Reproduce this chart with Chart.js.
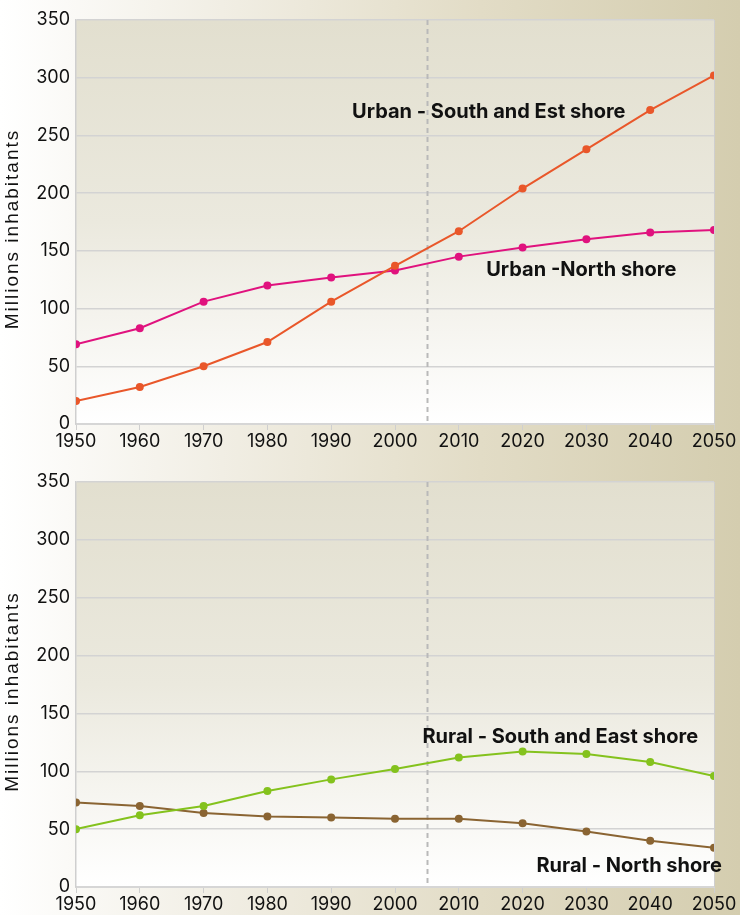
<!DOCTYPE html>
<html><head><meta charset="utf-8">
<script src="https://cdn.jsdelivr.net/npm/chart.js@4"></script>
<style>
html,body{margin:0;padding:0;}
body{width:740px;height:915px;background:linear-gradient(to right,#ffffff 0%,#f1eee4 30%,#e2dcc6 65%,#d4cdaf 100%);}
.box{position:absolute;left:0;width:740px;}
</style></head><body>
<div class="box" style="top:0;height:458px"><canvas id="c1"></canvas></div>
<div class="box" style="top:458px;height:457px"><canvas id="c2"></canvas></div>
<script>
const years = [1950,1960,1970,1980,1990,2000,2010,2020,2030,2040,2050];
const urbanSouthEast = [20,32,50,71,106,137,167,204,238,272,302];
const urbanNorth = [69,83,106,120,127,133,145,153,160,166,168];
const ruralSouthEast = [50,62,70,83,93,102,112,117,115,108,96];
const ruralNorth = [73,70,64,61,60,59,59,55,48,40,34];
const yTicks = [0,50,100,150,200,250,300,350];
const markerYear = 2005;
const yTitle = 'Millions inhabitants';

const pts = arr => years.map((y,i)=>({x:y,y:arr[i]}));
const FONT = 'Inter';

function ds(label, arr, color){
  return {label, data:pts(arr), borderColor:color, backgroundColor:color,
    borderWidth:2, pointRadius:4, pointHoverRadius:4, pointBorderWidth:0, tension:0};
}

const decor = {
  id:'decor',
  beforeDraw(chart){
    const {ctx, chartArea:a} = chart;
    const g = ctx.createLinearGradient(0,a.top,0,a.bottom);
    g.addColorStop(0,'#e2dfcf'); g.addColorStop(0.5,'#ebe9de'); g.addColorStop(1,'#ffffff');
    ctx.save(); ctx.fillStyle=g; ctx.fillRect(a.left,a.top,a.right-a.left,a.bottom-a.top); ctx.restore();
  },
  beforeDatasetsDraw(chart){
    const {ctx, chartArea:a, scales} = chart;
    ctx.save();
    ctx.strokeStyle='#cfcfcf'; ctx.lineWidth=1;
    ctx.beginPath(); ctx.moveTo(Math.round(a.right)+0.5,a.top); ctx.lineTo(Math.round(a.right)+0.5,a.bottom); ctx.stroke();
    const x = Math.round(scales.x.getPixelForValue(markerYear))+0.5;
    ctx.strokeStyle='#b9b9b9'; ctx.lineWidth=2; ctx.setLineDash([5,4]);
    ctx.beginPath(); ctx.moveTo(x,a.top); ctx.lineTo(x,a.bottom); ctx.stroke();
    ctx.restore();
  },
  afterDatasetsDraw(chart, args, opts){
    const {ctx, scales, chartArea:a} = chart;
    ctx.save();
    ctx.font = 'bold 20px '+FONT; ctx.fillStyle='#111'; ctx.textAlign='center'; ctx.textBaseline='middle';
    (opts.labels||[]).forEach(l=>{
      ctx.fillText(l.text, scales.x.getPixelForValue(l.x), scales.y.getPixelForValue(l.y));
    });
    ctx.restore();
    // axis title
    ctx.save();
    ctx.translate(13, (a.top+a.bottom)/2 + 7);
    ctx.rotate(-Math.PI/2);
    ctx.font = '19px "Liberation Sans"';
    ctx.letterSpacing = '2px';
    ctx.fillStyle='#111'; ctx.textAlign='center'; ctx.textBaseline='middle';
    ctx.fillText(yTitle, 0, 0);
    ctx.restore();
  }
};

function makeChart(id, datasets, labels, padTop, padBottom){
  return new Chart(document.getElementById(id), {
    type:'line',
    data:{datasets},
    plugins:[decor],
    options:{
      responsive:true, maintainAspectRatio:false, animation:false,
      layout:{padding:{top:padTop,right:26,left:0,bottom:padBottom}},
      plugins:{legend:{display:false}, tooltip:{enabled:false}, decor:{labels}},
      scales:{
        x:{type:'linear', min:1950, max:2050,
          afterFit:s=>{s.height=28;},
          ticks:{stepSize:10, color:'#111', font:{family:FONT,size:18}, padding:1, callback:v=>String(v), maxRotation:0, autoSkip:false},
          grid:{drawOnChartArea:false, color:'#cfcfcf', tickLength:6, lineWidth:1},
          border:{color:'#d6d6d6', width:2}
        },
        y:{min:0, max:350, afterBuildTicks:s=>{s.ticks=yTicks.map(v=>({value:v}));},
          afterFit:s=>{s.width=76;},
          ticks:{color:'#111', font:{family:FONT,size:18}, padding:6},
          grid:{color:'#d3d3d3', drawTicks:false, lineWidth:1.5},
          border:{color:'#cfcfcf', width:1.5},
          title:{display:false}
        }
      }
    }
  });
}

makeChart('c1', [ds('Urban - South and Est shore', urbanSouthEast, '#e9572a'), ds('Urban -North shore', urbanNorth, '#e0127e')],
  [{text:'Urban - South and Est shore', x:2014.7, y:270},{text:'Urban -North shore', x:2029.2, y:133.5}], 20, 6);
makeChart('c2', [ds('Rural - South and East shore', ruralSouthEast, '#84c21d'), ds('Rural - North shore', ruralNorth, '#8a6432')],
  [{text:'Rural - South and East shore', x:2025.9, y:130},{text:'Rural - North shore', x:2036.7, y:18}], 24, 0);
</script>
</body></html>
